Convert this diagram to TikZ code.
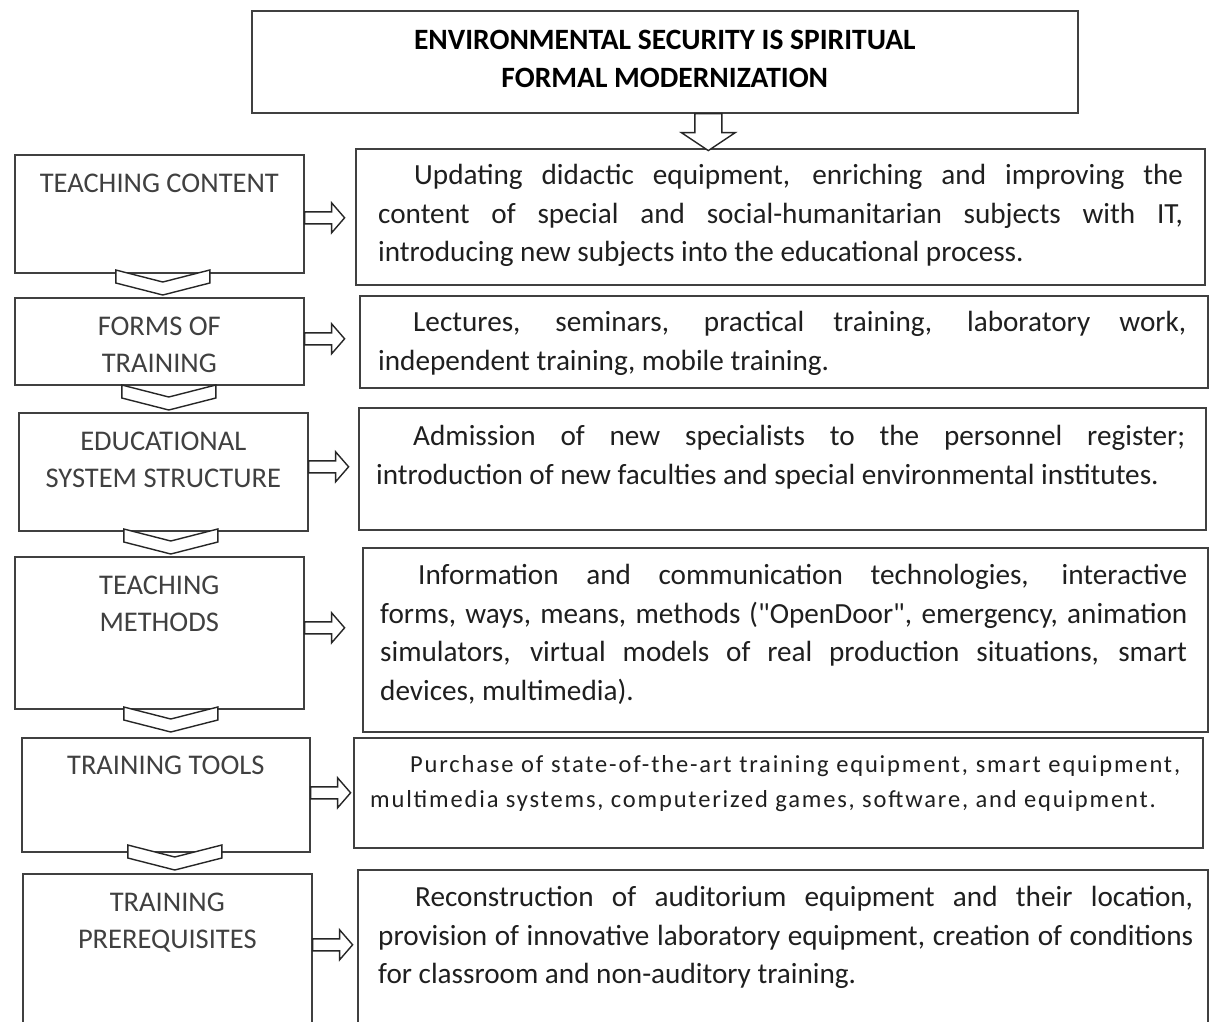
\documentclass[tikz,border=0pt]{standalone}
\usepackage{fontspec}
\setmainfont{Carlito}
\tolerance=10000
\hbadness=10000
\hfuzz=20pt
\newcommand\plainqq{{\addfontfeature{Ligatures=TeXOff}"}}
\begin{document}
\tikzset{
  frame/.style={draw=black!75, line width=1.6pt, inner sep=0pt, anchor=north west},
  blockline/.style={draw=black!85, line width=1.4pt, fill=white, line join=miter},
  % block arrow pointing right, tail at the origin
  rarrow/.pic={\path[blockline] (0,-6) -- (27,-6) -- (27,-15) -- (40,0) -- (27,15) -- (27,6) -- (0,6) -- cycle;},
  % chevron pointing down, lower tip at the origin
  chevron/.pic={\path[blockline] (0,0) -- (47,-12) -- (47,-25) -- (0,-13) -- (-47,-25) -- (-47,-12) -- cycle;},
  % block arrow pointing down, tail centre at the origin
  darrow/.pic={\path[blockline] (-13.5,0) -- (13.5,0) -- (13.5,19) -- (27,19) -- (0,37) -- (-27,19) -- (-13.5,19) -- cycle;},
  lbl/.style={inner sep=0pt, anchor=base, text=black!75, font=\fontsize{28.5}{37}\selectfont},
  para/.style={inner sep=0pt, anchor=base west, text=black!88, font=\fontsize{29.2}{38.5}\selectfont},
}
\begin{tikzpicture}[x=1pt,y=-1pt]
\useasboundingbox (0,0) rectangle (1210,1021);
\fill[white] (0,0) rectangle (1210,1021);
\clip (0,0) rectangle (1210,1021);

% heading
\node[frame, minimum width=826pt, minimum height=102pt] (top) at (251,10) {};
\node[inner sep=0pt, anchor=base, font=\bfseries\fontsize{29.5}{38}\selectfont] (ttl)
  at ([yshift=-39pt]top.north)
  {\parbox[t]{800pt}{\centering ENVIRONMENTAL SECURITY IS SPIRITUAL\\FORMAL MODERNIZATION}};

% left column
\node[frame, minimum width=289pt, minimum height=118pt] (l1) at (14,154) {};
\node[frame, minimum width=289pt, minimum height=87pt]  (l2) at (14,297) {};
\node[frame, minimum width=289pt, minimum height=118pt] (l3) at (18,412) {};
\node[frame, minimum width=289pt, minimum height=152pt] (l4) at (14,556) {};
\node[frame, minimum width=288pt, minimum height=114pt] (l5) at (21,737) {};
\node[frame, minimum width=289pt, minimum height=160pt] (l6) at (22,873) {};

\node[lbl] (l1t) at ([yshift=-38pt]l1.north) {\parbox[t]{280pt}{\centering TEACHING CONTENT}};
\node[lbl] (l2t) at ([yshift=-38pt]l2.north) {\parbox[t]{280pt}{\centering FORMS OF\\TRAINING}};
\node[lbl] (l3t) at ([yshift=-38pt]l3.north) {\parbox[t]{280pt}{\centering EDUCATIONAL\\SYSTEM STRUCTURE}};
\node[lbl] (l4t) at ([yshift=-38pt]l4.north) {\parbox[t]{280pt}{\centering TEACHING\\METHODS}};
\node[lbl] (l5t) at ([yshift=-37pt]l5.north) {\parbox[t]{280pt}{\centering TRAINING TOOLS}};
\node[lbl] (l6t) at ([yshift=-38pt]l6.north) {\parbox[t]{280pt}{\centering TRAINING\\PREREQUISITES}};

% right column
\node[frame, minimum width=849pt, minimum height=136pt] (r1) at (355,148) {};
\node[frame, minimum width=848pt, minimum height=92pt]  (r2) at (359,295) {};
\node[frame, minimum width=847pt, minimum height=122pt] (r3) at (358,407) {};
\node[frame, minimum width=845pt, minimum height=184pt] (r4) at (362,547) {};
\node[frame, minimum width=849pt, minimum height=110pt] (r5) at (353,737) {};
\node[frame, minimum width=850pt, minimum height=170pt] (r6) at (357,869) {};

\node[para] (r1t) at ([shift={(23,36.5)}]r1.north west) {\parbox[t]{805pt}{\hspace*{36pt}Updating didactic equipment, enriching and improving the\linebreak content of special and social-humanitarian subjects with IT,\linebreak introducing new subjects into the educational process.}};
\node[para] (r2t) at ([shift={(19,36.5)}]r2.north west) {\parbox[t]{808pt}{\hspace*{35pt}Lectures, seminars, practical training, laboratory work,\linebreak independent training, mobile training.}};
\node[para] (r3t) at ([shift={(18,38.5)}]r3.north west) {\parbox[t]{809pt}{\hspace*{37pt}Admission of new specialists to the personnel register;\linebreak introduction of new faculties and special environmental institutes.}};
\node[para] (r4t) at ([shift={(18,37.5)}]r4.north west) {\parbox[t]{807pt}{\hspace*{38pt}Information and communication technologies, interactive\linebreak forms, ways, means, methods (\plainqq OpenDoor\plainqq, emergency, animation\linebreak simulators, virtual models of real production situations, smart\linebreak devices, multimedia).}};
\node[para, font=\fontsize{24.5}{35}\selectfont\addfontfeature{LetterSpace=7.5}] (r5t) at ([shift={(17,35)}]r5.north west) {\parbox[t]{810pt}{\hspace*{40pt}Purchase of state-of-the-art training equipment, smart equipment,\linebreak multimedia systems, computerized games, software, and equipment.}};
\node[para] (r6t) at ([shift={(21,37.5)}]r6.north west) {\parbox[t]{815pt}{\hspace*{37pt}Reconstruction of auditorium equipment and their location,\linebreak provision of innovative laboratory equipment, creation of conditions\linebreak for classroom and non-auditory training.}};

% connectors
\pic at ([xshift=43.5pt]top.south) {darrow};

\pic at ([shift={(3.5,-2)}]l2.north) {chevron};
\pic at ([shift={(5.5,-2)}]l3.north) {chevron};
\pic at ([shift={(11.5,-2)}]l4.north) {chevron};
\pic at ([shift={(5,-5)}]l5.north) {chevron};
\pic at ([shift={(7.5,-3)}]l6.north) {chevron};

\pic at ([yshift=-4pt]l1.east) {rarrow};
\pic at ([yshift=2.5pt]l2.east) {rarrow};
\pic at ([yshift=5pt]l3.east) {rarrow};
\pic at ([yshift=5pt]l4.east) {rarrow};
\pic at ([yshift=2pt]l5.east) {rarrow};
\pic at ([yshift=9pt]l6.east) {rarrow};
\end{tikzpicture}
\end{document}
